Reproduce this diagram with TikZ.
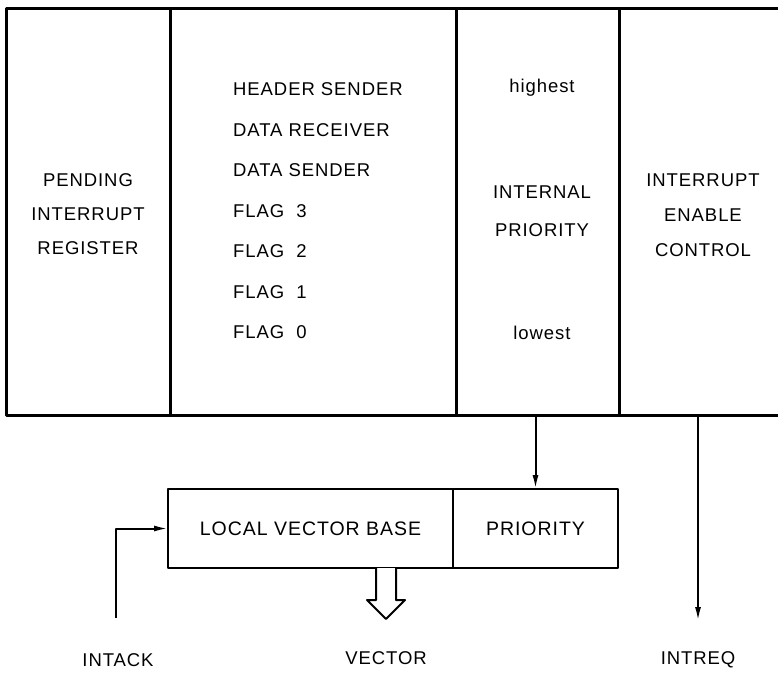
\documentclass[tikz,border=0pt]{standalone}
\usepackage{fontspec}
\setmainfont[LetterSpace=5]{Liberation Sans}
\usetikzlibrary{arrows.meta, positioning}

\begin{document}
\begin{tikzpicture}[x=1pt, y=-1pt, line join=round,
        lbl/.style={font=\fontsize{18.5}{34}\selectfont, align=center, inner sep=1pt},
        box/.style={draw, line width=2.6pt, outer sep=0pt, minimum height=79pt,
            font=\fontsize{19.5}{24}\selectfont},
        sig/.style={line width=2pt, -{Latex[length=14pt, width=6pt]}}]
        \useasboundingbox (0,0) rectangle (778,673);

        % Register frame
        \draw[line width=3pt] (778,8) -- (6,8) -- (6,415) -- (778,415);
        \foreach \x in {170, 456, 619}
            \draw[line width=3pt] (\x,8) -- (\x,415);
        \coordinate (frameS) at (0,415);

        % Column texts
        \node[lbl] (pir) at (88,214) {PENDING\\INTERRUPT\\REGISTER};
        \node[lbl, align=left, anchor=west, font=\fontsize{18.5}{40.5}\selectfont] (srcs) at (232,211)
            {HEADER SENDER\\DATA RECEIVER\\DATA SENDER\\FLAG\ \ 3\\FLAG\ \ 2\\FLAG\ \ 1\\FLAG\ \ 0};
        \node[lbl] (hi) at (542,88) {highest};
        \node[lbl, font=\fontsize{18.5}{38}\selectfont] (ipri) at (542,211) {INTERNAL\\PRIORITY};
        \node[lbl] (lo) at (542,333) {lowest};
        \node[lbl, font=\fontsize{18.5}{35}\selectfont] (iec) at (703,215) {INTERRUPT\\ENABLE\\CONTROL};

        % Vector register
        \node[box, minimum width=285pt] (lvb) at (310.5,528.5) {LOCAL VECTOR BASE};
        \node[box, minimum width=165pt, right=0pt of lvb] (prio) {PRIORITY};

        % Bus labels
        \node[lbl] (intack) at (118,660) {INTACK};
        \node[lbl] (vector) at (386,658) {VECTOR};
        \node[lbl] (intreq) at (698,660) {INTREQ};
        \coordinate (ackstart) at (116,618);
        \coordinate (reqend) at (698,621);

        % Signals
        \draw[sig] (prio.north |- frameS) -- (prio.north);
        \draw[sig] (reqend |- frameS) -- (reqend);
        \draw[sig] (ackstart) |- (lvb.west);

        % Vector output
        \coordinate (vtop) at (lvb.south -| vector.north);
        \draw[line width=2pt, fill=white] (vtop) ++(-10,0) -- ++(0,32) -- ++(-9,0)
            -- ++(19,19) -- ++(19,-19) -- ++(-9,0) -- ++(0,-32);
    \end{tikzpicture}
\end{document}
